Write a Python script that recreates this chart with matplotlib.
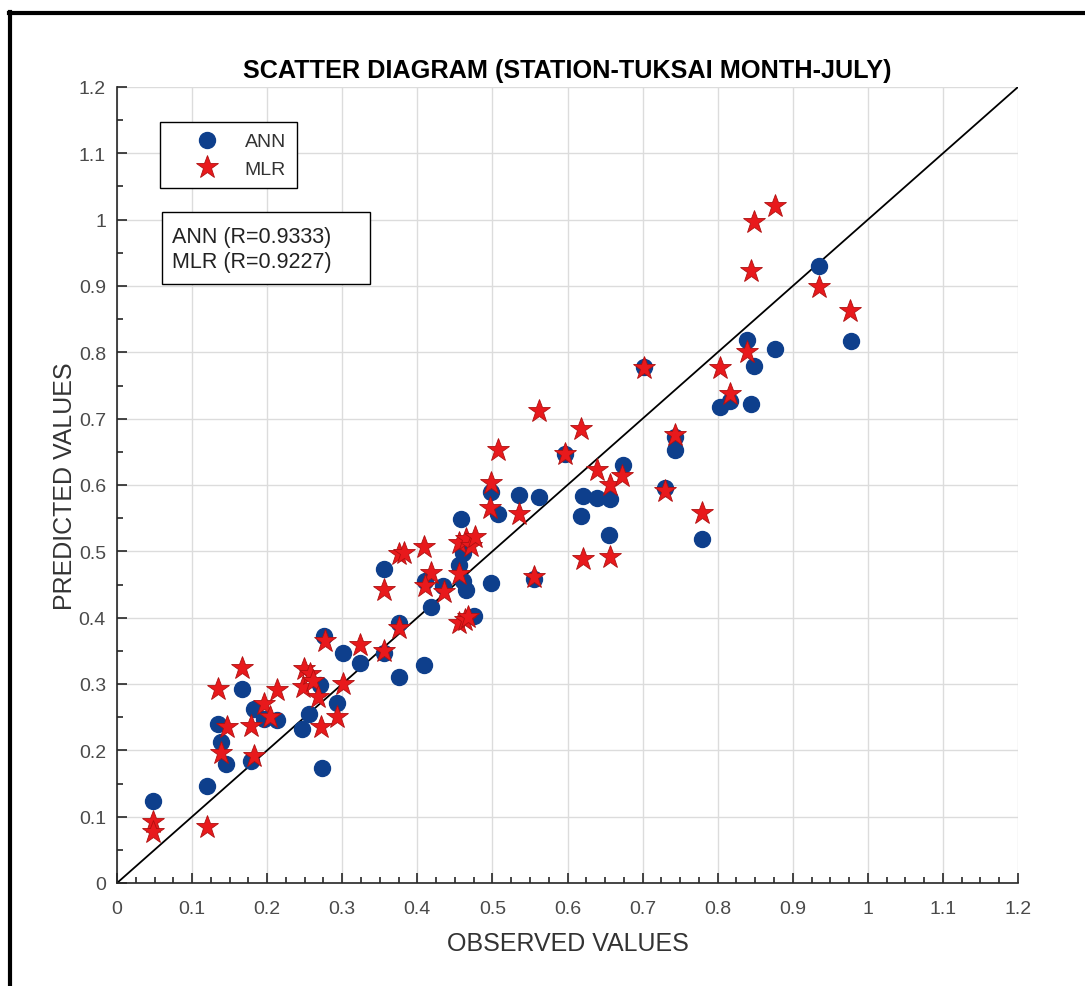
import numpy as np
import matplotlib
matplotlib.use("Agg")
import matplotlib.pyplot as plt
from matplotlib.lines import Line2D
from matplotlib.patches import Rectangle
from matplotlib.ticker import MultipleLocator

plt.rcParams['font.family'] = ['Liberation Sans', 'DejaVu Sans']

# observed / predicted values
ann_obs = [0.048, 0.120, 0.134, 0.139, 0.145, 0.166, 0.179, 0.182, 0.196, 0.213,
           0.247, 0.256, 0.270, 0.273, 0.276, 0.293, 0.301, 0.323, 0.356, 0.356,
           0.375, 0.375, 0.409, 0.418, 0.434, 0.410, 0.458, 0.461, 0.455, 0.461,
           0.465, 0.476, 0.498, 0.498, 0.508, 0.535, 0.562, 0.555, 0.597, 0.618,
           0.620, 0.639, 0.656, 0.655, 0.674, 0.702, 0.730, 0.743, 0.743, 0.779,
           0.803, 0.816, 0.845, 0.848, 0.839, 0.876, 0.935, 0.977]
ann_pred = [0.123, 0.146, 0.240, 0.213, 0.179, 0.292, 0.184, 0.262, 0.247, 0.245,
            0.232, 0.255, 0.298, 0.173, 0.373, 0.271, 0.346, 0.331, 0.473, 0.347,
            0.392, 0.310, 0.329, 0.416, 0.448, 0.455, 0.548, 0.498, 0.479, 0.456,
            0.441, 0.402, 0.452, 0.589, 0.556, 0.585, 0.582, 0.459, 0.647, 0.553,
            0.583, 0.580, 0.579, 0.525, 0.630, 0.778, 0.595, 0.672, 0.653, 0.518,
            0.717, 0.727, 0.722, 0.780, 0.819, 0.805, 0.930, 0.817]

mlr_obs = [0.048, 0.048, 0.120, 0.134, 0.139, 0.146, 0.166, 0.179, 0.182, 0.196,
           0.204, 0.213, 0.249, 0.248, 0.257, 0.261, 0.268, 0.272, 0.277, 0.293,
           0.301, 0.324, 0.356, 0.356, 0.375, 0.375, 0.382, 0.409, 0.418, 0.410,
           0.435, 0.455, 0.456, 0.464, 0.468, 0.456, 0.465, 0.472, 0.477, 0.498,
           0.497, 0.507, 0.536, 0.555, 0.562, 0.597, 0.618, 0.620, 0.639, 0.656,
           0.656, 0.672, 0.702, 0.730, 0.743, 0.779, 0.803, 0.816, 0.839, 0.845,
           0.848, 0.876, 0.935, 0.976]
mlr_pred = [0.092, 0.077, 0.084, 0.292, 0.196, 0.235, 0.324, 0.237, 0.192, 0.270,
            0.250, 0.291, 0.323, 0.295, 0.315, 0.305, 0.280, 0.235, 0.365, 0.250,
            0.300, 0.359, 0.441, 0.349, 0.384, 0.496, 0.498, 0.507, 0.468, 0.447,
            0.438, 0.466, 0.392, 0.396, 0.401, 0.512, 0.518, 0.508, 0.522, 0.603,
            0.566, 0.653, 0.556, 0.461, 0.712, 0.647, 0.685, 0.489, 0.623, 0.600,
            0.491, 0.614, 0.776, 0.591, 0.675, 0.558, 0.777, 0.737, 0.800, 0.922,
            0.997, 1.021, 0.898, 0.863]

r_text = "ANN (R=0.9333)\nMLR (R=0.9227)"

W, H = 1085, 987
fig = plt.figure(figsize=(W / 100, H / 100), dpi=100)
ax = fig.add_axes([117 / W, 1 - 884 / H, 901 / W, 796 / H])

ax.plot([0, 1.2], [0, 1.2], color='black', lw=1.3, zorder=2)
ax.plot(ann_obs, ann_pred, 'o', color='#0e3f8c', ms=11.5, mec='#0e3f8c',
        label='ANN', zorder=3)
ax.plot(mlr_obs, mlr_pred, '*', color='#e8191c', ms=17, mec='#b01010',
        mew=0.6, label='MLR', zorder=4)

ax.set_xlim(0, 1.2)
ax.set_ylim(0, 1.2)
ticks = np.round(np.arange(0, 1.21, 0.1), 1)
ax.set_xticks(ticks)
ax.set_xticklabels(['%g' % v for v in ticks])
ax.set_yticks(ticks)
ax.set_yticklabels(['%g' % v for v in ticks])
ax.xaxis.set_minor_locator(MultipleLocator(0.025))
ax.yaxis.set_minor_locator(MultipleLocator(0.05))
ax.tick_params(which='both', direction='in', top=False, right=False,
               labelsize=14, color='#262626', labelcolor='#4a4a4a', width=1.2)
ax.tick_params(which='major', length=7)
ax.tick_params(which='minor', length=4)
ax.tick_params(axis='x', which='major', pad=12)
ax.tick_params(axis='y', which='major', pad=8)
for s in ['top', 'right']:
    ax.spines[s].set_visible(False)
for s in ['left', 'bottom']:
    ax.spines[s].set_linewidth(1.2)
    ax.spines[s].set_color('#262626')
ax.grid(True, which='major', color='#dcdcdc', lw=1)
ax.set_axisbelow(True)

ax.set_title('SCATTER DIAGRAM (STATION-TUKSAI MONTH-JULY)', fontsize=18.2,
             fontweight='bold', pad=7)
ax.set_xlabel('OBSERVED VALUES', fontsize=18, color='#333333', labelpad=10)
ax.set_ylabel('PREDICTED VALUES', fontsize=18, color='#333333', labelpad=1.5)

leg = ax.legend(loc='upper left', bbox_to_anchor=((160 - 117) / 901, (884 - 123) / 796),
                borderaxespad=0, fontsize=14, frameon=True, fancybox=False,
                edgecolor='black', framealpha=1, borderpad=0.55,
                handlelength=3.7, handletextpad=0.1, labelspacing=0.5)
leg.get_frame().set_linewidth(1.0)
for t in leg.get_texts():
    t.set_color('#333333')

# correlation box
fig.add_artist(Rectangle((162 / W, 1 - 285 / H), 208 / W, 72 / H,
                         transform=fig.transFigure, fc='white', ec='black',
                         lw=1.0, zorder=5))
fig.text(172 / W, 1 - 250 / H, r_text, fontsize=15.5, va='center', ha='left',
         linespacing=1.3, color='#222222', zorder=6)

# outer frame (left and top edges visible)
fig.add_artist(Line2D([9.5 / W, 9.5 / W], [0, 1 - 13 / H], color='black', lw=3,
                      transform=fig.transFigure))
fig.add_artist(Line2D([8.5 / W, 1.0], [1 - 13.5 / H, 1 - 13.5 / H], color='black',
                      lw=3, transform=fig.transFigure))

fig.savefig('out.png', dpi=100)
